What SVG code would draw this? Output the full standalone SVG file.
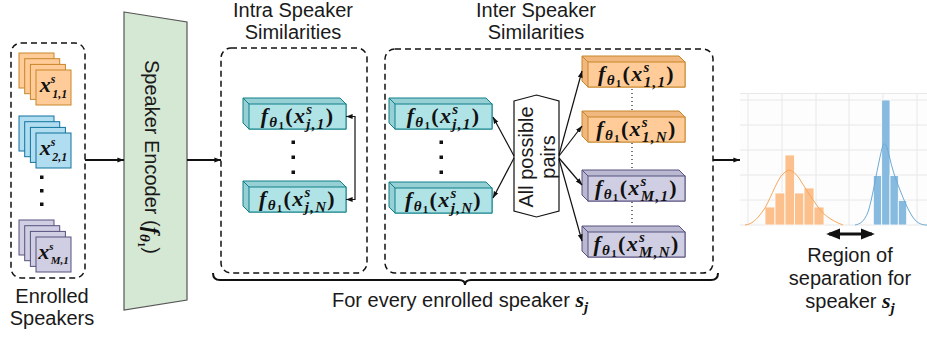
<svg xmlns="http://www.w3.org/2000/svg" xmlns:xlink="http://www.w3.org/1999/xlink" width="927" height="337" viewBox="0 0 927 337">
<style>
.t{font-family:"Liberation Sans",Arial,sans-serif;font-size:20px;fill:#1a1a1a}
.m{font-family:"Liberation Serif","Times New Roman",serif;font-style:italic;font-weight:bold;font-size:22px;fill:#111}
.bx{letter-spacing:1.3px}
.sb{font-size:15px}
.ss{font-size:11px;font-style:normal}
.up{font-style:normal}
.dash{fill:none;stroke:#111;stroke-width:1.5;stroke-dasharray:6 4}
.ln{fill:none;stroke:#111;stroke-width:1.2}
.fl{fill:none;stroke:#111;stroke-width:2}
.teal{fill:#b0e3e6;color:#97d0d4;stroke:#0e8088}
.orng{fill:#ffcc99;color:#f0b77f;stroke:#c8862a}
.purp{fill:#d0cee2;color:#bbb8d2;stroke:#56517e}
.blue{fill:#b1ddf0;color:#9dcfe6;stroke:#10739e}
.sq{stroke-width:1}
.grid{stroke:#e8e8e8;stroke-width:1}
.dot{fill:#111}
</style>
<defs>
<marker id="ah" viewBox="0 0 10 10" refX="9.5" refY="5" markerWidth="7" markerHeight="7" orient="auto-start-reverse" markerUnits="userSpaceOnUse"><path d="M0,1.5 L10,5 L0,8.5 z" fill="#111"/></marker>
<marker id="ahb" viewBox="0 0 10 10" refX="8" refY="5" markerWidth="14" markerHeight="14" orient="auto-start-reverse" markerUnits="userSpaceOnUse"><path d="M0,1 L10,5 L0,9 z" fill="#111"/></marker>
<g id="cube">
<path d="M0,0 H97 L103,6 V31 H6 L0,25 Z" fill="currentColor" stroke-width="1"/>
<rect x="6" y="6" width="97" height="25" stroke-width="1"/>
<path d="M0,0 L6,6" fill="none" stroke-width="1"/>
</g>
<g id="stack">
<rect x="0" y="0" width="35" height="35" class="sq"/>
<rect x="5.7" y="5.7" width="35" height="35" class="sq"/>
<rect x="11.4" y="11.4" width="35" height="35" class="sq"/>
<rect x="17" y="17" width="35" height="35" class="sq"/>
</g>
</defs>

<!-- Enrolled speakers -->
<g id="enrolled">
<rect x="11" y="43" width="74" height="235" rx="10" class="dash"/>
<use href="#stack" x="19" y="53" class="orng"/>
<text class="m" x="53.5" y="92" text-anchor="middle" font-size="19">x<tspan font-size="12" dy="-9">s</tspan><tspan font-size="12" dx="-3" dy="15">1,1</tspan></text>
<use href="#stack" x="19" y="116" class="blue"/>
<text class="m" x="53.5" y="155" text-anchor="middle" font-size="19">x<tspan font-size="12" dy="-9">s</tspan><tspan font-size="12" dx="-3" dy="15">2,1</tspan></text>
<rect x="40" y="175.5" width="3.5" height="3.5" class="dot"/>
<rect x="40" y="189" width="3.5" height="3.5" class="dot"/>
<rect x="40" y="202.5" width="3.5" height="3.5" class="dot"/>
<use href="#stack" x="19" y="220" class="purp"/>
<text class="m" x="53.5" y="259" text-anchor="middle" font-size="17">x<tspan font-size="11" dy="-9">s</tspan><tspan font-size="11" dx="-3" dy="14">M,1</tspan></text>
<text class="t" x="52" y="303" text-anchor="middle">Enrolled</text>
<text class="t" x="52" y="325" text-anchor="middle">Speakers</text>
</g>

<!-- Encoder -->
<g id="encoder">
<path d="M124,12 L187,22 L187,300 L124,310 Z" fill="#d5e8d4" stroke="#555" stroke-width="1.2"/>
<text class="t" transform="translate(152,157) rotate(90)" x="0" y="7" text-anchor="middle">Speaker Encoder (<tspan class="m" font-size="21">f</tspan><tspan class="m sb" dy="5">θ</tspan><tspan class="m ss" dy="2">1</tspan><tspan dy="-7">)</tspan></text>
</g>

<!-- Intra -->
<g id="intra">
<text class="t" x="293" y="17" text-anchor="middle">Intra Speaker</text>
<text class="t" x="293" y="39" text-anchor="middle">Similarities</text>
<rect x="221" y="48" width="146" height="225" rx="10" class="dash"/>
<use href="#cube" x="243" y="98" class="teal"/>
<text class="m bx" x="297.5" y="123" text-anchor="middle">f<tspan class="sb" dy="4">θ</tspan><tspan class="ss" dy="2">1</tspan><tspan class="up" dy="-6">(</tspan>x<tspan class="sb" dy="-9">s</tspan><tspan class="sb" dx="-7" dy="15">j,1</tspan><tspan class="up" dy="-6">)</tspan></text>
<rect x="291.5" y="140.5" width="3.5" height="3.5" class="dot"/>
<rect x="291.5" y="155.5" width="3.5" height="3.5" class="dot"/>
<rect x="291.5" y="170.5" width="3.5" height="3.5" class="dot"/>
<use href="#cube" x="243" y="181" class="teal"/>
<text class="m bx" x="297.5" y="206" text-anchor="middle">f<tspan class="sb" dy="4">θ</tspan><tspan class="ss" dy="2">1</tspan><tspan class="up" dy="-6">(</tspan>x<tspan class="sb" dy="-9">s</tspan><tspan class="sb" dx="-7" dy="15">j,N</tspan><tspan class="up" dy="-6">)</tspan></text>
</g>

<!-- Inter -->
<g id="inter">
<text class="t" x="536" y="17" text-anchor="middle">Inter Speaker</text>
<text class="t" x="536" y="39" text-anchor="middle">Similarities</text>
<rect x="385" y="49" width="328" height="224" rx="10" class="dash"/>
<use href="#cube" x="389" y="98" class="teal"/>
<text class="m bx" x="443.5" y="123" text-anchor="middle">f<tspan class="sb" dy="4">θ</tspan><tspan class="ss" dy="2">1</tspan><tspan class="up" dy="-6">(</tspan>x<tspan class="sb" dy="-9">s</tspan><tspan class="sb" dx="-7" dy="15">j,1</tspan><tspan class="up" dy="-6">)</tspan></text>
<rect x="439.5" y="140.5" width="3.5" height="3.5" class="dot"/>
<rect x="439.5" y="155.5" width="3.5" height="3.5" class="dot"/>
<rect x="439.5" y="170.5" width="3.5" height="3.5" class="dot"/>
<use href="#cube" x="389" y="182" class="teal"/>
<text class="m bx" x="443.5" y="207" text-anchor="middle">f<tspan class="sb" dy="4">θ</tspan><tspan class="ss" dy="2">1</tspan><tspan class="up" dy="-6">(</tspan>x<tspan class="sb" dy="-9">s</tspan><tspan class="sb" dx="-7" dy="15">j,N</tspan><tspan class="up" dy="-6">)</tspan></text>
<g id="pairs">
<path d="M514,101 L536.5,95 L559,101 L559,211 L536.5,217 L514,211 Z" fill="#fff" stroke="#111" stroke-width="1.2"/>
<text class="t" transform="translate(536,157) rotate(-90)" x="0" y="-3" text-anchor="middle" font-size="19">All possible</text>
<text class="t" transform="translate(536,157) rotate(-90)" x="0" y="19" text-anchor="middle" font-size="19">pairs</text>
</g>
<use href="#cube" x="582" y="56" class="orng"/>
<text class="m bx" x="636.5" y="81" text-anchor="middle">f<tspan class="sb" dy="4">θ</tspan><tspan class="ss" dy="2">1</tspan><tspan class="up" dy="-6">(</tspan>x<tspan class="sb" dy="-9">s</tspan><tspan class="sb" dx="-7" dy="15">1,1</tspan><tspan class="up" dy="-6">)</tspan></text>
<use href="#cube" x="582" y="111" class="orng"/>
<text class="m bx" x="636.5" y="136" text-anchor="middle">f<tspan class="sb" dy="4">θ</tspan><tspan class="ss" dy="2">1</tspan><tspan class="up" dy="-6">(</tspan>x<tspan class="sb" dy="-9">s</tspan><tspan class="sb" dx="-7" dy="15">1,N</tspan><tspan class="up" dy="-6">)</tspan></text>
<use href="#cube" x="582" y="170" class="purp"/>
<text class="m bx" x="636.5" y="195" text-anchor="middle">f<tspan class="sb" dy="4">θ</tspan><tspan class="ss" dy="2">1</tspan><tspan class="up" dy="-6">(</tspan>x<tspan class="sb" dy="-9">s</tspan><tspan class="sb" dx="-7" dy="15">M,1</tspan><tspan class="up" dy="-6">)</tspan></text>
<use href="#cube" x="582" y="226" class="purp"/>
<text class="m bx" x="636.5" y="251" text-anchor="middle">f<tspan class="sb" dy="4">θ</tspan><tspan class="ss" dy="2">1</tspan><tspan class="up" dy="-6">(</tspan>x<tspan class="sb" dy="-9">s</tspan><tspan class="sb" dx="-7" dy="15">M,N</tspan><tspan class="up" dy="-6">)</tspan></text>
<path d="M632,89 V110 M632,143 V169 M632,202 V225" fill="none" stroke="#222" stroke-width="1.2" stroke-dasharray="1 3"/>
</g>

<!-- Histogram -->
<g id="histogram">
<rect x="740" y="93" width="187" height="132" fill="#fdfdfd"/>
<path class="grid" d="M740,93.5 H927 M740,100 H927 M740,125 H927 M740,150 H927 M740,175 H927 M740,200 H927 M740,225 H927 M748,93 V225 M782,93 V225 M816,93 V225 M849,93 V225 M883,93 V225 M917,93 V225"/>
<g fill="#fcc08c" stroke="#fff" stroke-width="0.8">
<rect x="765" y="207" width="10" height="18"/>
<rect x="775" y="193" width="10" height="32"/>
<rect x="785" y="155" width="9.5" height="70"/>
<rect x="794.5" y="193" width="9.5" height="32"/>
<rect x="804" y="188" width="10" height="37"/>
<rect x="814" y="207" width="10" height="18"/>
</g>
<g fill="#86badf" stroke="#fff" stroke-width="0.8">
<rect x="873.3" y="175.5" width="8.4" height="49.5"/>
<rect x="881.7" y="100" width="8.3" height="125"/>
<rect x="890" y="175.5" width="8.3" height="49.5"/>
<rect x="898.3" y="200.5" width="8.4" height="24.5"/>
</g>
<path d="M745,225 C752,224 756,221 765,208 C772,195 778,178 783,174 C786,171 788,170 790,170 C793,171 796,174 799,178 C804,186 810,196 818,207 C824,215 830,220 843,225" fill="none" stroke="#f6a85e" stroke-width="1"/>
<path d="M855,225 C860,224 864,222 868,212 C872,200 876,175 880,157 C882,148 883,144 884,144 C886,144 887,147 889,155 C892,168 895,178 900,190 C904,200 907,208 912,216 C916,222 920,225 927,225" fill="none" stroke="#6eaad6" stroke-width="1"/>
<line x1="829" y1="234" x2="872" y2="234" stroke="#111" stroke-width="3" marker-start="url(#ahb)" marker-end="url(#ahb)"/>
<text class="t" x="850" y="262" text-anchor="middle">Region of</text>
<text class="t" x="850" y="285" text-anchor="middle">separation for</text>
<text class="t" x="850" y="308" text-anchor="middle">speaker <tspan class="m">s</tspan><tspan class="m sb" dy="5">j</tspan></text>
</g>

<!-- Brace and caption -->
<g id="brace">
<path d="M213,273 Q213,280 220,280 L459,280 Q465,280 465,285 Q465,280 471,280 L711,280 Q718,280 718,273" fill="none" stroke="#111" stroke-width="2"/>
<text class="t" x="332" y="307">For every enrolled speaker <tspan class="m">s</tspan><tspan class="m sb" dy="5">j</tspan></text>
</g>

<!-- Connectors -->
<g id="connectors">
<line x1="85" y1="160" x2="124" y2="160" class="fl" marker-end="url(#ah)"/>
<line x1="187" y1="160" x2="221" y2="160" class="fl" marker-end="url(#ah)"/>
<line x1="713" y1="160" x2="740" y2="160" class="fl" marker-end="url(#ah)"/>
<path d="M346,116.5 H355 V199.5 H346" class="ln" marker-start="url(#ah)" marker-end="url(#ah)"/>
<line x1="514" y1="156" x2="493" y2="117" class="ln" marker-end="url(#ah)"/>
<line x1="514" y1="158" x2="493" y2="198" class="ln" marker-end="url(#ah)"/>
<line x1="559" y1="155" x2="582" y2="71" class="ln" marker-end="url(#ah)"/>
<line x1="559" y1="156" x2="582" y2="126" class="ln" marker-end="url(#ah)"/>
<line x1="559" y1="158" x2="582" y2="185" class="ln" marker-end="url(#ah)"/>
<line x1="559" y1="159" x2="582" y2="241" class="ln" marker-end="url(#ah)"/>
</g>
</svg>
